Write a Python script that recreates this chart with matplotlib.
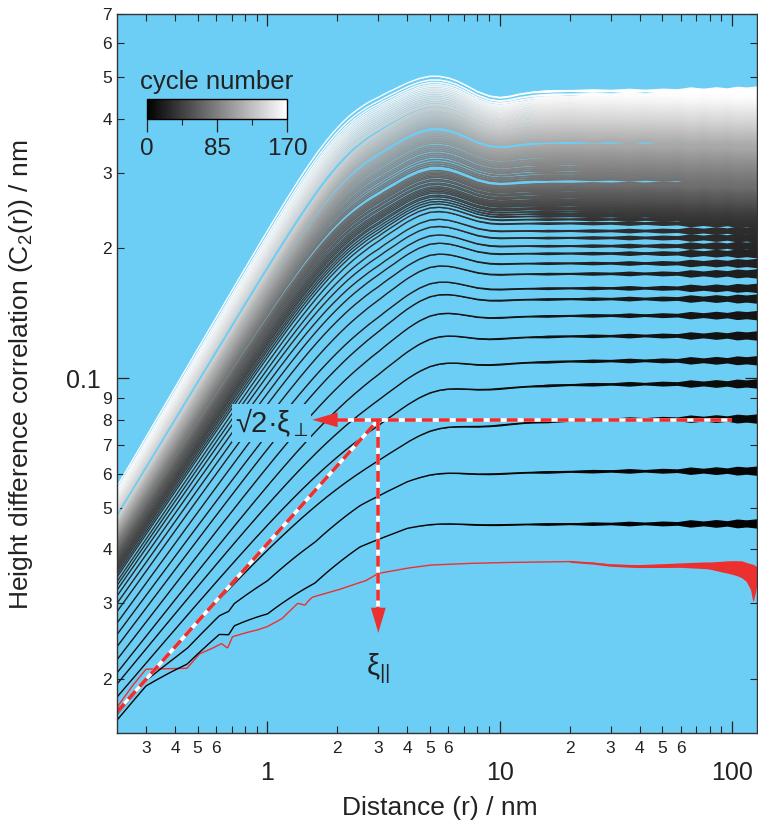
import numpy as np
import matplotlib
matplotlib.use("Agg")
import matplotlib.pyplot as plt
from matplotlib.ticker import LogLocator, FuncFormatter, FixedLocator
from matplotlib.colors import Normalize
from matplotlib.cm import ScalarMappable

plt.rcParams["font.family"] = ["Liberation Sans", "DejaVu Sans"]
plt.rcParams["mathtext.fontset"] = "custom"
plt.rcParams["mathtext.rm"] = "Liberation Sans"
plt.rcParams["mathtext.it"] = "Liberation Sans:italic"
plt.rcParams["mathtext.bf"] = "Liberation Sans:bold"

BG = "#6dcef5"
RED = "#ec3030"
INK = "#222222"
R0 = 0.225          # smallest distance in the data (nm)
N_MAX = 170

# cycle 0, read point by point (nm, nm)
red_r = [0.225, 0.26, 0.30, 0.45, 0.51, 0.58, 0.634, 0.673, 0.707, 0.8, 0.9, 1.0,
         1.15, 1.28, 1.35, 1.45, 1.5, 1.56, 2.0, 2.66, 3.0, 4.0, 5.0, 7.0, 10, 15,
         20, 25, 30, 39, 50, 60, 77, 90, 100, 110, 120, 128]
red_c = [0.0172, 0.0192, 0.0211, 0.0212, 0.0229, 0.0236, 0.0242, 0.0236, 0.0251,
         0.0256, 0.0260, 0.0265, 0.0276, 0.0292, 0.0300, 0.0297, 0.0304, 0.0310,
         0.0322, 0.0339, 0.0352, 0.0362, 0.0368, 0.0371, 0.0373, 0.0374, 0.0375,
         0.0372, 0.0368, 0.0366, 0.0367, 0.0368, 0.0368, 0.0366, 0.0365, 0.0363,
         0.0355, 0.0352]
# scatter envelope of cycle 0 at large r (fraction below / above)
red_band_r = [20, 40, 60, 80, 95, 105, 115, 120, 123, 126, 128]
red_band_lo = [0.004, 0.008, 0.012, 0.02, 0.035, 0.045, 0.06, 0.09, 0.15, 0.10, 0.05]
red_band_hi = [0.004, 0.008, 0.012, 0.018, 0.03, 0.035, 0.04, 0.045, 0.045, 0.04, 0.035]

# later cycles: saturation value C(inf) and value at r = R0
cycles = list(range(2, 171, 2))
plateau = [
    0.046, 0.061, 0.0806, 0.0972, 0.110, 0.1256, 0.140, 0.153, 0.162, 0.175,
    0.185, 0.195, 0.203, 0.212, 0.220, 0.229, 0.234, 0.238, 0.241, 0.244,
    0.247, 0.249, 0.252, 0.254, 0.256, 0.258, 0.260, 0.263, 0.265, 0.268,
    0.270, 0.273, 0.275, 0.277, 0.279, 0.281, 0.283, 0.290, 0.293, 0.296,
    0.300, 0.304, 0.307, 0.310, 0.314, 0.317, 0.320, 0.323, 0.327, 0.330,
    0.333, 0.336, 0.339, 0.342, 0.345, 0.348, 0.356, 0.359, 0.362, 0.365,
    0.368, 0.372, 0.375, 0.378, 0.381, 0.384, 0.388, 0.391, 0.394, 0.398,
    0.401, 0.405, 0.409, 0.413, 0.417, 0.421, 0.425, 0.429, 0.433, 0.437,
    0.441, 0.445, 0.450, 0.456, 0.465,
]
start = [
    0.0163, 0.0167, 0.0170, 0.0182, 0.0195, 0.0207, 0.0222, 0.0238, 0.0254, 0.0270,
    0.0287, 0.0300, 0.0312, 0.0322, 0.0330, 0.0337, 0.0345, 0.0350, 0.0355, 0.0359,
    0.0363, 0.0366, 0.0369, 0.0372, 0.0375, 0.0378, 0.0381, 0.0384, 0.0387, 0.0390,
    0.0392, 0.0394, 0.0396, 0.0398, 0.0400, 0.0402, 0.0404, 0.0408, 0.0410, 0.0412,
    0.0414, 0.0416, 0.0418, 0.0420, 0.0422, 0.0424, 0.0426, 0.0428, 0.0430, 0.0432,
    0.0434, 0.0436, 0.0438, 0.0440, 0.0442, 0.0444, 0.0448, 0.0450, 0.0452, 0.0454,
    0.0456, 0.0458, 0.0460, 0.0462, 0.0464, 0.0466, 0.0468, 0.0470, 0.0472, 0.0488,
    0.0492, 0.0496, 0.0500, 0.0504, 0.0508, 0.0512, 0.0516, 0.0520, 0.0524, 0.0528,
    0.0533, 0.0538, 0.0543, 0.0550, 0.0560,
]

# hump near r = 5 nm (relative, peak = 1) and the dip that follows it
hump_r = [2, 2.5, 3, 3.5, 4, 4.5, 5, 5.5, 6, 6.5, 7, 7.5, 8, 9, 10, 11, 12, 14, 17, 20]
hump_v = [0, 0.03, 0.12, 0.35, 0.65, 0.88, 1.0, 0.97, 0.85, 0.68, 0.5, 0.34, 0.2,
          0.05, 0, 0, 0, 0, 0, 0]
dip_v = [0, 0, 0, 0, 0, 0, 0, 0, 0, 0.02, 0.08, 0.16, 0.24, 0.36, 0.40, 0.34, 0.22,
         0.08, 0.01, 0]
# pixel-scale kinks of the first cycles
kink_r = [0.225, 0.3, 0.45, 0.62, 0.68, 0.72, 1.0, 1.6, 2.5, 4]
kink_v = [0, 0.02, -0.08, -0.08, -0.12, -0.10, -0.16, -0.14, -0.04, 0]
kink_weight = {2: 1.0, 4: 0.6}
# scatter of the saturated part (fraction) and its lumpiness along r
noise_r = [4, 8, 15, 30, 50, 80, 100, 128]
noise_w = [0.0, 0.003, 0.006, 0.008, 0.011, 0.015, 0.019, 0.023]
lump_r = [4, 10, 13, 16, 20, 25, 30, 36, 42, 50, 58, 66, 75, 85, 95, 105, 115, 128]
lump_v = [1.0, 1.0, 0.6, 1.2, 0.7, 1.3, 0.8, 1.4, 0.7, 1.2, 0.8, 1.5, 0.9, 1.3, 0.8,
          1.2, 0.9, 1.1]


def c2_curve(r, s, p, n):
    lr = np.log(r)
    frac = np.clip(np.log(p / 0.0806) / np.log(0.465 / 0.0806), 0, 1)
    alpha = 0.6 + 0.32 * frac
    k = 3 + 2 * frac
    xi = R0 * (p / s) ** (1 / alpha)
    u = r / xi
    h = u ** alpha / (1 + u ** (alpha * k)) ** (1 / k)
    amp = 0.02 + 0.065 * np.clip(np.log(p / 0.046) / np.log(0.2 / 0.046), 0, 1)
    dip = 0.09 * np.clip(np.log(p / 0.22) / np.log(0.465 / 0.22), 0, 1)
    shape = (amp * np.interp(lr, np.log(hump_r), hump_v, left=0, right=0)
             - dip * np.interp(lr, np.log(hump_r), dip_v, left=0, right=0))
    c = p * h * (1 + shape)
    w = kink_weight.get(n, 0.0)
    if w:
        c = c * (1 + w * np.interp(lr, np.log(kink_r), kink_v, left=0, right=0))
    return c


fig = plt.figure(figsize=(7.58, 8.24), dpi=100)
ax = fig.add_axes([117 / 758, 91 / 824, 640 / 758, 719 / 824])
ax.set_facecolor(BG)
ax.set_xscale("log")
ax.set_yscale("log")
ax.set_xlim(R0, 128)
ax.set_ylim(0.015, 0.7)

r = np.geomspace(R0, 128, 700)
lr = np.log(r)
cmap = plt.get_cmap("gray")
norm = Normalize(0, N_MAX)

# cycle 0
rc = np.exp(np.interp(lr, np.log(red_r), np.log(red_c)))
lo = np.interp(lr, np.log(red_band_r), red_band_lo, left=0)
hi = np.interp(lr, np.log(red_band_r), red_band_hi, left=0)
ax.fill_between(r, rc * (1 - lo), rc * (1 + hi), color=RED, lw=0, zorder=2)
ax.plot(r, rc, color=RED, lw=1.0, zorder=2)

nw = (np.interp(lr, np.log(noise_r), noise_w, left=0)
      * np.interp(lr, np.log(lump_r), lump_v))
for n, s, p in zip(cycles, start, plateau):
    col = cmap(norm(n))
    c = c2_curve(r, s, p, n)
    ax.fill_between(r, c * (1 - nw), c * (1 + nw), color=col, lw=0, zorder=2)
    ax.plot(r, c, color=col, lw=1.0, zorder=2)

# xi_perp / xi_par construction
corner_r, corner_c = 3.0, 0.08
for col, ls in [("white", "-"), (RED, (0, (3, 1.7)))]:
    kw = dict(color=col, lw=2.6, ls=ls, zorder=5, solid_capstyle="butt",
              dash_capstyle="butt")
    ax.plot([R0, corner_r], [0.0168, corner_c], **kw)
    ax.plot([2.0, 100], [corner_c, corner_c], **kw)
    ax.plot([corner_r, corner_r], [corner_c, 0.029], **kw)
head = dict(arrowstyle="-|>,head_length=1.3,head_width=0.38", color=RED, lw=0,
            shrinkA=0, shrinkB=0, mutation_scale=14)
ax.annotate("", xy=(1.56, corner_c), xytext=(2.1, corner_c), arrowprops=head, zorder=6)
ax.annotate("", xy=(corner_r, 0.0256), xytext=(corner_r, 0.030), arrowprops=head, zorder=6)

ax.text(1.04, 0.0786, r"√2·ξ$_{\perp}$", fontsize=21, color=INK, ha="center", va="center",
        zorder=6, bbox=dict(facecolor=BG, edgecolor="none", pad=2))
ax.text(3.0, 0.0212, r"ξ$_{||}$", fontsize=21, color=INK, ha="center", va="center", zorder=6)


def minor_label(top_digit):
    def fmt(v, pos):
        d = int(round(v / 10 ** np.floor(np.log10(v) + 1e-9)))
        return str(d) if d <= top_digit else ""
    return FuncFormatter(fmt)


major_fmt = FuncFormatter(lambda v, pos: f"{v:g}")
for axis, top_digit in [(ax.xaxis, 6), (ax.yaxis, 9)]:
    axis.set_major_locator(LogLocator(base=10, numticks=10))
    axis.set_minor_locator(LogLocator(base=10, subs=np.arange(2, 10), numticks=20))
    axis.set_major_formatter(major_fmt)
    axis.set_minor_formatter(minor_label(top_digit))

ax.tick_params(which="both", direction="in", top=True, right=True, colors=INK)
ax.tick_params(which="major", length=8.5, width=0.9)
ax.tick_params(which="minor", length=5, width=0.8)
ax.tick_params(axis="x", which="major", labelsize=18, pad=20)
ax.tick_params(axis="x", which="minor", labelsize=12.5, pad=6)
ax.tick_params(axis="y", which="major", labelsize=18, pad=12)
ax.tick_params(axis="y", which="minor", labelsize=12.5, pad=3.5)
for sp in ax.spines.values():
    sp.set_linewidth(1.0)
    sp.set_color("#333333")
    sp.set_zorder(7)

fig.text(440 / 758, 1 - 808 / 824, "Distance (r) / nm", fontsize=19, color=INK,
         ha="center", va="center")
fig.text(21 / 758, 1 - 375 / 824, "Height difference correlation (C$_2$(r)) / nm",
         fontsize=19, color=INK, ha="center", va="center", rotation=90)

# cycle number scale
cax = fig.add_axes([147 / 758, 1 - 119 / 824, 140 / 758, 20 / 824])
cb = fig.colorbar(ScalarMappable(norm=norm, cmap=cmap), cax=cax, orientation="horizontal")
cb.set_ticks([0, 85, 170])
cb.set_ticklabels(["0", "85", "170"])
cax.xaxis.set_minor_locator(FixedLocator([42.5, 127.5]))
cax.tick_params(which="major", direction="out", length=9, width=0.9, labelsize=17.5,
                pad=5, colors=INK)
cax.tick_params(which="minor", direction="out", length=4.5, width=0.8, colors=INK)
cb.outline.set_linewidth(1.0)
cax.set_title("cycle number", fontsize=18.5, color=INK, pad=7)

fig.savefig("out.png", dpi=100)
